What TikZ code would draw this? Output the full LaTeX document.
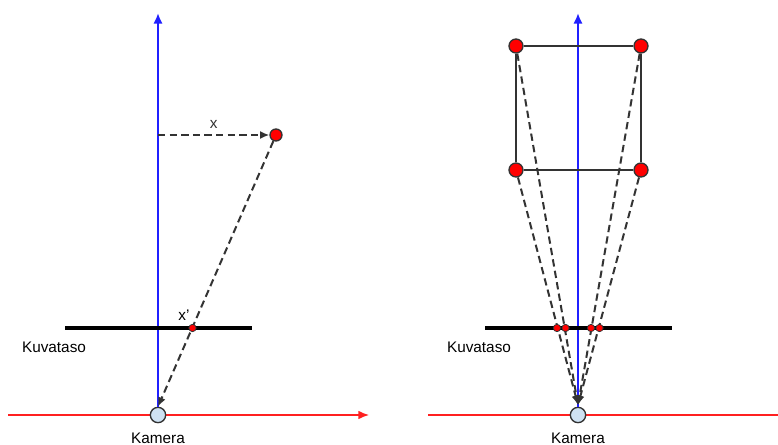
\documentclass[tikz,border=0pt]{standalone}
\usepackage{fontspec}
\setmainfont{Liberation Sans}
\usetikzlibrary{arrows.meta,calc}
\definecolor{camfill}{HTML}{CFE2F3}
\definecolor{axred}{HTML}{FF2020}
\definecolor{axblue}{HTML}{2020FF}
\definecolor{dk}{HTML}{333333}
\tikzset{
  blueaxis/.style={axblue,line width=1.6pt,-{Latex[length=8pt,width=7pt]}},
  redaxis/.style={axred,line width=1pt,-{Latex[length=8pt,width=6.5pt]}},
  plane/.style={black,line width=2.6pt},
  ray/.style={dk,dash pattern=on 5.5pt off 3.2pt,line width=1.5pt,-{Latex[length=7pt,width=6pt]}},
  cam/.style={circle,draw=dk,fill=camfill,line width=1pt,minimum size=11.5pt,inner sep=0pt},
  bigpt/.style={circle,draw=dk,fill=red,line width=1pt,minimum size=10.5pt,inner sep=0pt},
  smallpt/.style={circle,draw=dk,fill=red,line width=0.6pt,minimum size=5.5pt,inner sep=0pt},
  edge/.style={dk,line width=1.5pt},
  lbl/.style={font=\fontsize{11.5pt}{13pt}\selectfont,inner sep=0pt}
}
\begin{document}
\begin{tikzpicture}[x=0.75pt,y=-0.75pt]
\useasboundingbox (0,0) rectangle (778,445);
% ---------- left ----------
\coordinate (Lrs) at (8,415);
\coordinate (Lre) at (369,415);
\draw[redaxis] (Lrs) -- (Lre);
\node[cam] (Lcam) at (158,415) {};
\coordinate (Ltop) at (158,13);
\draw[blueaxis] (Lcam.north) -- (Ltop);
\coordinate (Lps) at (65,328);
\coordinate (Lpe) at (252,328);
\draw[plane] (Lps) -- (Lpe);
\node[bigpt,minimum size=9pt] (P) at (276,135) {};
\coordinate (Lax) at (158,135);
\draw[ray] (Lax) -- node[lbl,above=4pt] {x} (P.west);
\draw[ray] (P) -- (Lcam.north);
\node[smallpt] (Pimg) at (192.5,328) {};
\node[lbl] (xp) at (184,315) {x'};
\node[lbl] (Lk) at (54,347) {Kuvataso};
\node[lbl] (Lkam) at (158,438) {Kamera};
% ---------- right ----------
\coordinate (Rrs) at (428,415);
\coordinate (Rre) at (778,415);
\draw[axred,line width=1pt] (Rrs) -- (Rre);
\node[cam] (Rcam) at (578,415) {};
\coordinate (Rtop) at (578,13);
\draw[blueaxis] (Rcam.north) -- (Rtop);
\coordinate (Rps) at (485,328);
\coordinate (Rpe) at (672,328);
\draw[plane] (Rps) -- (Rpe);
\node[bigpt] (A) at (516,46) {};
\node[bigpt] (B) at (641,46) {};
\node[bigpt] (C) at (516,170) {};
\node[bigpt] (D) at (641,170) {};
\draw[edge] (A) -- (B) -- (D) -- (C) -- (A);
\coordinate (Rhit) at (578,405);
\draw[ray] (A) -- (Rhit);
\draw[ray] (B) -- (Rhit);
\draw[ray] (C) -- (Rhit);
\draw[ray] (D) -- (Rhit);
\node[smallpt] (a1) at (557,328) {};
\node[smallpt] (a2) at (565.5,328) {};
\node[smallpt] (a3) at (591,328) {};
\node[smallpt] (a4) at (599.5,328) {};
\node[lbl] (Rk) at (479,347) {Kuvataso};
\node[lbl] (Rkam) at (578,438) {Kamera};
\end{tikzpicture}
\end{document}
